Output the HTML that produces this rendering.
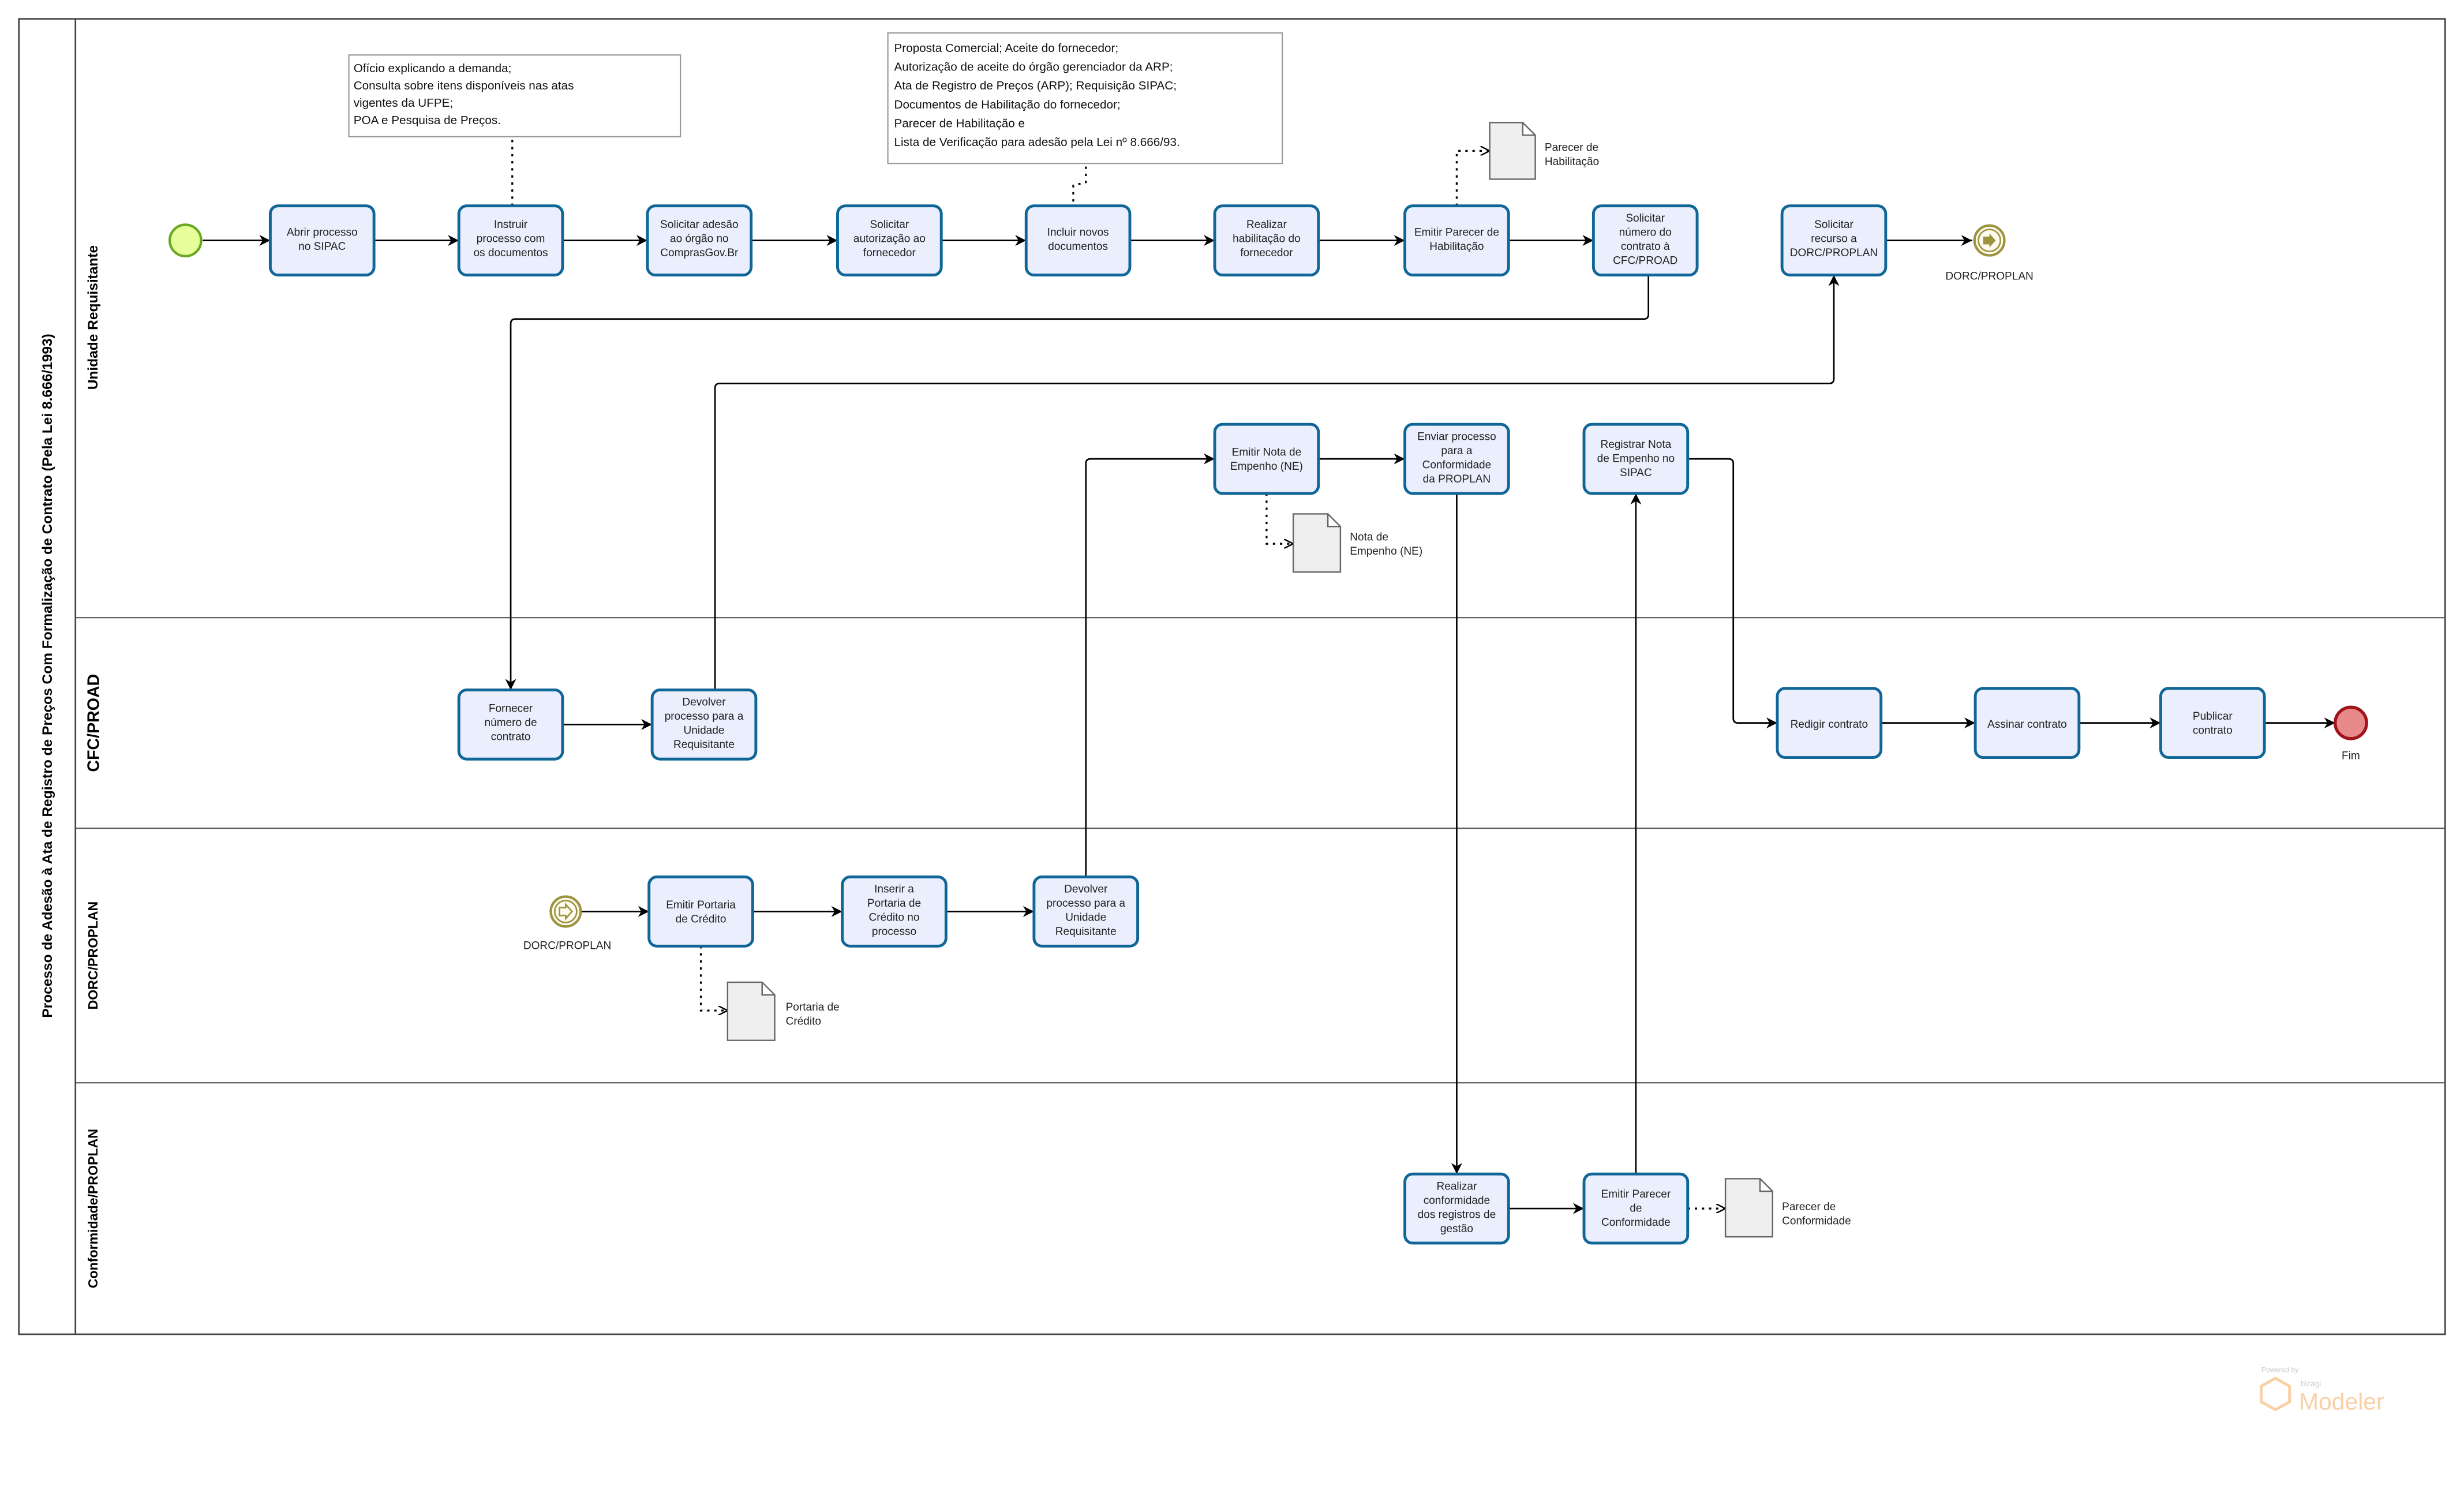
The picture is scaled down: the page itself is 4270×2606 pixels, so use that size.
<!DOCTYPE html>
<html><head><meta charset="utf-8"><style>html,body{margin:0;padding:0;background:#fff}svg{display:block}</style></head><body>
<svg width="4270" height="2606" viewBox="0 0 1568 957" preserveAspectRatio="none" xmlns="http://www.w3.org/2000/svg" font-family="Liberation Sans, DejaVu Sans, sans-serif">
<defs>
<marker id="a" viewBox="0 0 10 10" refX="10" refY="5" markerWidth="7" markerHeight="7" markerUnits="userSpaceOnUse" orient="auto"><path d="M0,0 L10,5 L0,10 L3,5 z" fill="#000"/></marker>
<marker id="o" viewBox="0 0 10 10" refX="10" refY="5" markerWidth="6" markerHeight="6" markerUnits="userSpaceOnUse" orient="auto"><path d="M0,0 L10,5 L0,10" fill="none" stroke="#000" stroke-width="1.5"/></marker>
</defs>
<!-- pool -->
<rect x="12" y="12" width="1544" height="837" fill="#fff" stroke="#444" stroke-width="1"/>
<line x1="48" y1="12" x2="48" y2="849" stroke="#444" stroke-width="1"/>
<g stroke="#555" stroke-width="0.8">
<line x1="48" y1="393" x2="1556" y2="393"/><line x1="48" y1="527" x2="1556" y2="527"/><line x1="48" y1="689" x2="1556" y2="689"/>
</g>
<g font-weight="bold" fill="#000" text-anchor="middle">
<text transform="translate(33,430) rotate(-90)" font-size="9">Processo de Adesão à Ata de Registro de Preços Com Formalização de Contrato (Pela Lei 8.666/1993)</text>
<text transform="translate(62,202) rotate(-90)" font-size="9">Unidade Requisitante</text>
<text transform="translate(63,460) rotate(-90)" font-size="10.5">CFC/PROAD</text>
<text transform="translate(62,608) rotate(-90)" font-size="8.5">DORC/PROPLAN</text>
<text transform="translate(62,769) rotate(-90)" font-size="8.5">Conformidade/PROPLAN</text>
</g>
<!-- annotations -->
<g font-size="7.6" fill="#111">
<rect x="222" y="35" width="211" height="52" fill="#fff" stroke="#999" stroke-width="0.8"/>
<text x="225" y="46">Ofício explicando a demanda;</text>
<text x="225" y="57">Consulta sobre itens disponíveis nas atas</text>
<text x="225" y="68">vigentes da UFPE;</text>
<text x="225" y="79">POA e Pesquisa de Preços.</text>
<rect x="565" y="21" width="251" height="83" fill="#fff" stroke="#999" stroke-width="0.8"/>
<text x="569" y="33">Proposta Comercial; Aceite do fornecedor;</text>
<text x="569" y="45">Autorização de aceite do órgão gerenciador da ARP;</text>
<text x="569" y="57">Ata de Registro de Preços (ARP); Requisição SIPAC;</text>
<text x="569" y="69">Documentos de Habilitação do fornecedor;</text>
<text x="569" y="81">Parecer de Habilitação e</text>
<text x="569" y="93">Lista de Verificação para adesão pela Lei nº 8.666/93.</text>
</g>
<!-- dotted associations -->
<g fill="none" stroke="#000" stroke-width="1.2" stroke-dasharray="1.5,3">
<path d="M326,89 L326,131"/>
<path d="M691,106 L691,116 L683,118 L683,131"/>
<path d="M927,131 L927,96 L948,96" marker-end="url(#o)"/>
<path d="M806,314 L806,346 L823,346" marker-end="url(#o)"/>
<path d="M446,602 L446,643 L463,643" marker-end="url(#o)"/>
<path d="M1074,769 L1098,769" marker-end="url(#o)"/>
</g>
<!-- sequence flows -->
<g fill="none" stroke="#000" stroke-width="1" marker-end="url(#a)">
<path d="M129,153 L172,153"/><path d="M238,153 L292,153"/><path d="M358,153 L412,153"/><path d="M478,153 L533,153"/><path d="M599,153 L653,153"/><path d="M719,153 L773,153"/><path d="M839,153 L894,153"/><path d="M960,153 L1014,153"/><path d="M1200,153 L1255,153"/>
<path d="M1049,175 L1049,200 Q1049,203 1046,203 L328,203 Q325,203 325,206 L325,439"/>
<path d="M455,439 L455,247 Q455,244 458,244 L1164,244 Q1167,244 1167,241 L1167,175"/>
<path d="M358,461 L415,461"/>
<path d="M370,580 L413,580"/><path d="M479,580 L536,580"/><path d="M602,580 L658,580"/>
<path d="M691,558 L691,295 Q691,292 694,292 L773,292"/>
<path d="M839,292 L894,292"/>
<path d="M927,314 L927,747"/>
<path d="M960,769 L1008,769"/>
<path d="M1041,747 L1041,314"/>
<path d="M1074,292 L1100,292 Q1103,292 1103,295 L1103,457 Q1103,460 1106,460 L1131,460"/>
<path d="M1197,460 L1257,460"/><path d="M1323,460 L1375,460"/><path d="M1441,460 L1486,460"/>
</g>
<!-- tasks -->
<g fill="#ebeffd" stroke="#0f6697" stroke-width="1.8">
<rect x="172" y="131" width="66" height="44" rx="5"/><rect x="292" y="131" width="66" height="44" rx="5"/><rect x="412" y="131" width="66" height="44" rx="5"/><rect x="533" y="131" width="66" height="44" rx="5"/><rect x="653" y="131" width="66" height="44" rx="5"/><rect x="773" y="131" width="66" height="44" rx="5"/><rect x="894" y="131" width="66" height="44" rx="5"/><rect x="1014" y="131" width="66" height="44" rx="5"/><rect x="1134" y="131" width="66" height="44" rx="5"/>
<rect x="773" y="270" width="66" height="44" rx="5"/><rect x="894" y="270" width="66" height="44" rx="5"/><rect x="1008" y="270" width="66" height="44" rx="5"/>
<rect x="292" y="439" width="66" height="44" rx="5"/><rect x="415" y="439" width="66" height="44" rx="5"/><rect x="1131" y="438" width="66" height="44" rx="5"/><rect x="1257" y="438" width="66" height="44" rx="5"/><rect x="1375" y="438" width="66" height="44" rx="5"/>
<rect x="413" y="558" width="66" height="44" rx="5"/><rect x="536" y="558" width="66" height="44" rx="5"/><rect x="658" y="558" width="66" height="44" rx="5"/>
<rect x="894" y="747" width="66" height="44" rx="5"/><rect x="1008" y="747" width="66" height="44" rx="5"/>
</g>
<g font-size="7" fill="#222" text-anchor="middle">
<text x="205" y="150">Abrir processo</text><text x="205" y="159">no SIPAC</text>
<text x="325" y="145">Instruir</text><text x="325" y="154">processo com</text><text x="325" y="163">os documentos</text>
<text x="445" y="145">Solicitar adesão</text><text x="445" y="154">ao órgão no</text><text x="445" y="163">ComprasGov.Br</text>
<text x="566" y="145">Solicitar</text><text x="566" y="154">autorização ao</text><text x="566" y="163">fornecedor</text>
<text x="686" y="150">Incluir novos</text><text x="686" y="159">documentos</text>
<text x="806" y="145">Realizar</text><text x="806" y="154">habilitação do</text><text x="806" y="163">fornecedor</text>
<text x="927" y="150">Emitir Parecer de</text><text x="927" y="159">Habilitação</text>
<text x="1047" y="141">Solicitar</text><text x="1047" y="150">número do</text><text x="1047" y="159">contrato à</text><text x="1047" y="168">CFC/PROAD</text>
<text x="1167" y="145">Solicitar</text><text x="1167" y="154">recurso a</text><text x="1167" y="163">DORC/PROPLAN</text>
<text x="806" y="290">Emitir Nota de</text><text x="806" y="299">Empenho (NE)</text>
<text x="927" y="280">Enviar processo</text><text x="927" y="289">para a</text><text x="927" y="298">Conformidade</text><text x="927" y="307">da PROPLAN</text>
<text x="1041" y="285">Registrar Nota</text><text x="1041" y="294">de Empenho no</text><text x="1041" y="303">SIPAC</text>
<text x="325" y="453">Fornecer</text><text x="325" y="462">número de</text><text x="325" y="471">contrato</text>
<text x="448" y="449">Devolver</text><text x="448" y="458">processo para a</text><text x="448" y="467">Unidade</text><text x="448" y="476">Requisitante</text>
<text x="1164" y="463">Redigir contrato</text>
<text x="1290" y="463">Assinar contrato</text>
<text x="1408" y="458">Publicar</text><text x="1408" y="467">contrato</text>
<text x="446" y="578">Emitir Portaria</text><text x="446" y="587">de Crédito</text>
<text x="569" y="568">Inserir a</text><text x="569" y="577">Portaria de</text><text x="569" y="586">Crédito no</text><text x="569" y="595">processo</text>
<text x="691" y="568">Devolver</text><text x="691" y="577">processo para a</text><text x="691" y="586">Unidade</text><text x="691" y="595">Requisitante</text>
<text x="927" y="757">Realizar</text><text x="927" y="766">conformidade</text><text x="927" y="775">dos registros de</text><text x="927" y="784">gestão</text>
<text x="1041" y="762">Emitir Parecer</text><text x="1041" y="771">de</text><text x="1041" y="780">Conformidade</text>
</g>
<!-- events -->
<circle cx="118" cy="153" r="10" fill="#e6ff9a" stroke="#6aa924" stroke-width="1.6"/>
<g>
<circle cx="1266" cy="153" r="9.5" fill="#fffbee" stroke="#9c9440" stroke-width="1.6"/><circle cx="1266" cy="153" r="7" fill="none" stroke="#9c9440" stroke-width="1"/>
<path d="M1262,150.5 h4 v-2 l4,4.5 -4,4.5 v-2 h-4z" fill="#9c9440"/>
<circle cx="360" cy="580" r="9.5" fill="#fffbee" stroke="#9c9440" stroke-width="1.6"/><circle cx="360" cy="580" r="7" fill="none" stroke="#9c9440" stroke-width="1"/>
<path d="M356,577.5 h4 v-2 l4,4.5 -4,4.5 v-2 h-4z" fill="none" stroke="#9c9440" stroke-width="1"/>
<circle cx="1496" cy="460" r="10" fill="#e88a8a" stroke="#a0141c" stroke-width="2"/>
</g>
<g font-size="7" fill="#222" text-anchor="middle">
<text x="1266" y="178">DORC/PROPLAN</text><text x="361" y="604">DORC/PROPLAN</text><text x="1496" y="483">Fim</text>
</g>
<!-- documents -->
<g fill="#efefef" stroke="#666" stroke-width="0.9">
<path d="M948,78 h21 l8,8 v28 h-29z M969,78 v8 h8"/>
<path d="M823,327 h22 l8,8 v29 h-30z M845,327 v8 h8"/>
<path d="M463,625 h22 l8,8 v29 h-30z M485,625 v8 h8"/>
<path d="M1098,750 h22 l8,8 v29 h-30z M1120,750 v8 h8"/>
</g>
<g font-size="7" fill="#222">
<text x="983" y="96">Parecer de</text><text x="983" y="105">Habilitação</text>
<text x="859" y="344">Nota de</text><text x="859" y="353">Empenho (NE)</text>
<text x="500" y="643">Portaria de</text><text x="500" y="652">Crédito</text>
<text x="1134" y="770">Parecer de</text><text x="1134" y="779">Conformidade</text>
</g>
<!-- watermark -->
<g opacity="0.6">
<text x="1439" y="873" font-size="4.5" fill="#aaa">Powered by</text>
<path d="M1448,877 l9,5 v10 l-9,5 l-9,-5 v-10z" fill="none" stroke="#f6b26b" stroke-width="1.8"/>
<text x="1464" y="882" font-size="5" fill="#aaa">bizagi</text>
<text x="1463" y="897" font-size="15" fill="#f6b26b">Modeler</text>
</g>
</svg>
</body></html>
